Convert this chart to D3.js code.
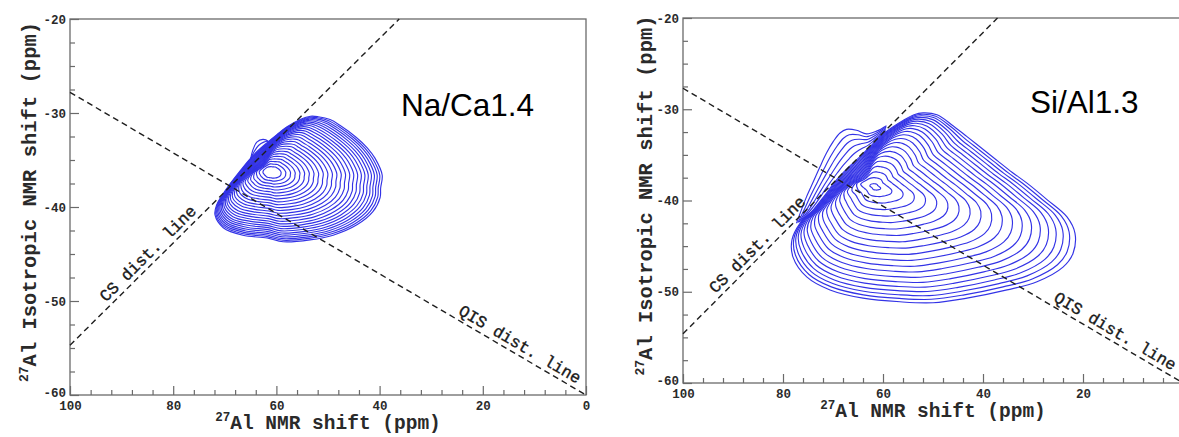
<!DOCTYPE html>
<html><head><meta charset="utf-8">
<script src="https://cdn.jsdelivr.net/npm/d3@7"></script>
<style>body{margin:0;background:#fff;overflow:hidden} svg{display:block}</style>
</head><body>
<svg id="c" width="1179" height="437"></svg>
<script>
// ---------------- data ----------------
const xTicks = [100, 80, 60, 40, 20, 0];
const yTicks = [-20, -30, -40, -50, -60];
const xMinorStep = 4;
const yMinorStep = 2.5;
const titles = ["Na/Ca1.4", "Si/Al1.3"];
const xLabel = ["27", "Al NMR shift (ppm)"];
const yLabel = ["27", "Al Isotropic NMR shift (ppm)"];
const lineLabels = ["CS dist. line", "QIS dist. line"];

// dashed distribution lines [x(ppm), y(ppm)]
const csLineNa = [[100, -54.7], [36.2, -20]];
const qisLineNa = [[100, -27.8], [0, -60]];
const csLineSi = [[100, -54.6], [37.1, -20]];
const qisLineSi = [[100, -27.7], [0, -60]];
// label anchor positions along lines (x ppm)
const labelAtNa = [83.5, 13.8];
const labelAtSi = [83.7, 14.6];

// contour peak maxima
const peakNa = [60.9, -36.3];
const peakSi = [61.6, -38.5];
// outermost contour of the main body (clockwise from top)
const outerNa = [[51.9,-30.4],[49.6,-30.7],[47.7,-31.3],[44.5,-32.6],[42.4,-33.7],[40.9,-34.8],[39.5,-36.6],[39.8,-38.0],[39.9,-39.0],[41.3,-40.5],[44.4,-41.9],[49.0,-43.0],[53.5,-43.5],[58.7,-43.7],[61.8,-43.3],[66.5,-43.0],[70.3,-42.2],[71.9,-40.85],[71.6,-39.8],[69.6,-38.0],[67.1,-36.2],[64.5,-34.5],[61.9,-33.2],[59.9,-32.3],[58.0,-31.5],[55.4,-30.7],[53.4,-30.35]];
const outerSi = [[52.0,-30.4],[49.2,-30.6],[46.0,-31.8],[43.2,-33.0],[40.2,-34.3],[37.2,-35.6],[34.2,-36.9],[31.2,-38.1],[27.2,-39.9],[23.2,-41.8],[21.6,-43.6],[22.0,-45.8],[24.0,-47.3],[29.2,-48.9],[35.2,-49.8],[43.2,-50.7],[50.0,-51.2],[56.6,-51.1],[64.0,-50.7],[70.6,-49.8],[75.2,-48.4],[78.0,-46.2],[78.2,-44.3],[76.6,-42.5],[73.9,-41.0],[71.6,-39.4],[69.3,-37.75],[67.0,-36.4],[64.6,-35.2],[62.6,-34.1],[60.6,-33.0],[58.2,-32.0],[55.9,-31.2],[53.8,-30.6]];
// small low-level lobe outside the sharp edge (outermost contour there)
const lobeNa = [[65.0,-34.9],[64.6,-34.0],[63.8,-33.1],[62.6,-32.8],[61.6,-33.0],[61.3,-33.3]];
const lobeSi = [[77.3,-42.5],[76.3,-41.0],[75.3,-39.6],[73.9,-37.9],[72.6,-36.3],[71.3,-34.8],[69.9,-33.5],[68.6,-32.6],[67.3,-32.2],[65.3,-32.3],[63.3,-32.7],[61.3,-32.4],[59.3,-31.8]];
const levelsNa = 26, levelsSi = 21;      // number of contour levels
const lobeLevelsNa = 2, lobeLevelsSi = 5;
const firstLevelNa = 1.0, firstLevelSi = -0.5;
const edgeBandNa = 1.9, edgeBandSi = 2.5; // thickness of the crowded edge band (ppm, along iso axis)

// ---------------- drawing ----------------
const svg = d3.select("#c");
const W = 1179;
const AX = "#6a6a6a", TXT = "#2a2a2a", BLUE = "#3333e6";
const MONO = "'Liberation Mono','Courier New',monospace";

function drawPanel(cfg) {
  const g = svg.append("g");
  const x = d3.scaleLinear().domain([100, 0]).range(cfg.xr);
  const y = d3.scaleLinear().domain([-20, -60]).range(cfg.yr);

  // ----- contours -----
  const c = [x(cfg.peak[0]), y(cfg.peak[1])];
  const P = cfg.outer.map(p => [x(p[0]), y(p[1])]);
  function hitDist(u) {           // distance from peak to outer polygon along direction u
    let best = Infinity;
    for (let i = 0; i < P.length; i++) {
      const p0 = P[i], p1 = P[(i + 1) % P.length];
      const e = [p1[0] - p0[0], p1[1] - p0[1]];
      const det = -u[0] * e[1] + e[0] * u[1];
      if (Math.abs(det) < 1e-9) continue;
      const rx = p0[0] - c[0], ry = p0[1] - c[1];
      const s = (-rx * e[1] + e[0] * ry) / det;
      const w = (u[0] * ry - u[1] * rx) / det;
      if (s > 0 && w >= -1e-6 && w <= 1 + 1e-6) best = Math.min(best, s);
    }
    return best;
  }
  const T = Math.abs(y(-20 - cfg.band) - y(-20));   // band thickness in px
  const pw = 5, gamma = 1.1;
  const smin = (A, B) => Math.pow(Math.pow(A, -pw) + Math.pow(B, -pw), -1 / pw);
  const rays = P.map(p => {
    const d = [p[0] - c[0], p[1] - c[1]], R = Math.hypot(d[0], d[1]);
    const u = [d[0] / R, d[1] / R];
    const Ropp = hitDist([-u[0], -u[1]]);
    const lam = Math.max(1, gamma * Ropp / R);
    const b = lam > 1.2 ? Math.max(0, 1 - T / R) : 0.85;
    return { u, R, lam, b, norm: smin(lam, 1) };
  });
  const N = cfg.levels, a = cfg.first;
  const contours = [];
  for (let k = 1; k <= N; k++) {
    const t = (k + a) / (N + a);
    contours.push(rays.map(r => {
      const s = smin(r.lam * t, r.b + (1 - r.b) * t) / r.norm;
      return [c[0] + r.u[0] * r.R * s, c[1] + r.u[1] * r.R * s];
    }));
  }
  const cg = g.append("g").attr("fill", "none").attr("stroke", BLUE).attr("stroke-width", 1.15).attr("stroke-linejoin", "round");
  cg.selectAll("path.ct").data(contours).join("path").attr("class", "ct")
    .attr("d", d3.line().curve(d3.curveCatmullRomClosed.alpha(0.5)));

  // lobe arcs outside the sharp edge
  const LP = cfg.lobe.map(p => [x(p[0]), y(p[1])]);
  const base = LP.map(p => {
    const d = [p[0] - c[0], p[1] - c[1]], L = Math.hypot(d[0], d[1]);
    const u = [d[0] / L, d[1] / L];
    const s = Math.min(L, hitDist(u));
    return [c[0] + u[0] * s, c[1] + u[1] * s];
  });
  const arcs = [];
  for (let k = 1; k <= cfg.lobeLevels; k++) {
    const fr = k / cfg.lobeLevels;
    arcs.push(LP.map((p, i) => [base[i][0] + (p[0] - base[i][0]) * fr, base[i][1] + (p[1] - base[i][1]) * fr]));
  }
  cg.selectAll("path.lb").data(arcs).join("path").attr("class", "lb")
    .attr("d", d3.line().curve(d3.curveCatmullRom.alpha(0.5)));

  // ----- frame -----
  g.append("rect").attr("x", cfg.xr[0]).attr("y", cfg.yr[0])
    .attr("width", cfg.xr[1] - cfg.xr[0]).attr("height", cfg.yr[1] - cfg.yr[0])
    .attr("fill", "none").attr("stroke", AX).attr("stroke-width", 1.3);

  // ----- axes -----
  const xMinor = d3.range(0, 100.001, xMinorStep).filter(v => !xTicks.includes(v));
  const yMinor = d3.range(-60, -19.999, yMinorStep).filter(v => !yTicks.includes(v));
  const xMajor = xTicks.filter(v => x(v) <= W - 4);
  const styleAxis = sel => {
    sel.select(".domain").remove();
    sel.selectAll("line").attr("stroke", AX).attr("stroke-width", 1.2);
    sel.selectAll("text").attr("fill", TXT).attr("font-family", MONO).attr("font-weight", "bold").attr("font-size", 12.5);
  };
  g.append("g").attr("transform", `translate(0,${cfg.yr[1]})`)
    .call(d3.axisBottom(x).tickValues(xMinor).tickSizeInner(-5).tickSizeOuter(0).tickFormat(""))
    .call(styleAxis);
  g.append("g").attr("transform", `translate(0,${cfg.yr[1]})`)
    .call(d3.axisBottom(x).tickValues(xMajor).tickSizeInner(-9).tickSizeOuter(0).tickPadding(6).tickFormat(d => String(d)))
    .call(styleAxis);
  g.append("g").attr("transform", `translate(${cfg.xr[0]},0)`)
    .call(d3.axisLeft(y).tickValues(yMinor).tickSizeInner(-5).tickSizeOuter(0).tickFormat(""))
    .call(styleAxis);
  const ya = g.append("g").attr("transform", `translate(${cfg.xr[0]},0)`)
    .call(d3.axisLeft(y).tickValues(yTicks).tickSizeInner(-9).tickSizeOuter(0).tickPadding(4).tickFormat(d => String(d)))
    .call(styleAxis);
  ya.selectAll(".tick text").filter(d => d === -60).attr("dy", "0.1em");

  // ----- dashed lines + labels -----
  [cfg.cs, cfg.qis].forEach((ln, i) => {
    const p0 = [x(ln[0][0]), y(ln[0][1])], p1 = [x(ln[1][0]), y(ln[1][1])];
    g.append("line").attr("x1", p0[0]).attr("y1", p0[1]).attr("x2", p1[0]).attr("y2", p1[1])
      .attr("stroke", "#1e1e1e").attr("stroke-width", 1.4).attr("stroke-dasharray", "6,4");
    const xv = cfg.labelAt[i];
    const yv = ln[0][1] + (ln[1][1] - ln[0][1]) * (xv - ln[0][0]) / (ln[1][0] - ln[0][0]);
    const ang = Math.atan2(p1[1] - p0[1], p1[0] - p0[0]) * 180 / Math.PI;
    g.append("text").attr("transform", `translate(${x(xv)},${y(yv)}) rotate(${ang})`)
      .attr("y", -5).attr("text-anchor", "middle").attr("font-family", MONO)
      .attr("font-size", 16.5).attr("fill", "#1a1a1a").attr("stroke", "#1a1a1a").attr("stroke-width", 0.35)
      .text(lineLabels[i]);
  });

  // ----- title -----
  g.append("text").attr("x", cfg.title[0]).attr("y", cfg.title[1])
    .attr("font-family", "'Liberation Sans',Arial,sans-serif").attr("font-size", 31.5)
    .attr("fill", "#000").text(cfg.name);

  // ----- axis titles -----
  const xm = (cfg.xr[0] + cfg.xr[1]) / 2;
  const xt = g.append("text").attr("x", xm).attr("y", cfg.xlab).attr("text-anchor", "middle")
    .attr("font-family", MONO).attr("font-weight", "bold").attr("font-size", 19.5).attr("fill", TXT);
  xt.append("tspan").attr("font-size", 12.5).attr("dy", -8).text(xLabel[0]);
  xt.append("tspan").attr("dy", 8).text(xLabel[1]);
  const ym = (cfg.yr[0] + cfg.yr[1]) / 2 - 5;
  const yt = g.append("text").attr("transform", `translate(${cfg.ylab},${ym}) rotate(-90)`).attr("text-anchor", "middle")
    .attr("font-family", MONO).attr("font-weight", "bold").attr("font-size", 20.5).attr("fill", TXT);
  yt.append("tspan").attr("font-size", 13).attr("dy", -8).text(yLabel[0]);
  yt.append("tspan").attr("dy", 8).text(yLabel[1]);
}

drawPanel({ name: titles[0], xr: [70, 586], yr: [19, 395], peak: peakNa, outer: outerNa, lobe: lobeNa,
  levels: levelsNa, lobeLevels: lobeLevelsNa, first: firstLevelNa, band: edgeBandNa, cs: csLineNa, qis: qisLineNa,
  labelAt: labelAtNa, title: [401, 116], xlab: 429, ylab: 36 });
drawPanel({ name: titles[1], xr: [683, 1183], yr: [18, 383], peak: peakSi, outer: outerSi, lobe: lobeSi,
  levels: levelsSi, lobeLevels: lobeLevelsSi, first: firstLevelSi, band: edgeBandSi, cs: csLineSi, qis: qisLineSi,
  labelAt: labelAtSi, title: [1030, 113], xlab: 417, ylab: 652 });
</script>
</body></html>
